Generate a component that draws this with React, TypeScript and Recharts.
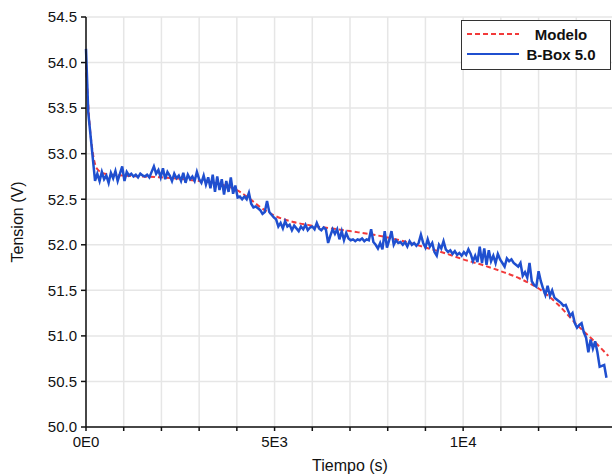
import { CartesianGrid, Label, Line, LineChart, XAxis, YAxis } from "recharts";

// Modelo (red dashed) – time in s, voltage in V
const modelTime = [0, 50, 100, 150, 200, 300, 500, 1000, 2000, 3000, 3500, 4000, 4300, 4600, 5000, 5500, 6000, 7000, 8000, 8500, 9000, 9500, 10000, 10500, 11000, 11500, 12000, 12500, 13000, 13500, 13850];
const modelVolt = [53.98, 53.6, 53.3, 53.1, 52.96, 52.83, 52.78, 52.76, 52.74, 52.7, 52.67, 52.6, 52.52, 52.42, 52.32, 52.25, 52.21, 52.15, 52.08, 52.03, 51.97, 51.91, 51.84, 51.78, 51.71, 51.63, 51.52, 51.35, 51.13, 50.93, 50.78];

// B-Box 5.0 measurement (blue), one sample every 60 s
const BBOX_STEP = 60;
const bboxVolt = [
  54.15, 53.45, 53.2, 52.95, 52.7, 52.78, 52.7, 52.8, 52.72, 52.76,
  52.68, 52.79, 52.73, 52.81, 52.7, 52.78, 52.86, 52.7, 52.8, 52.76,
  52.78, 52.75, 52.77, 52.74, 52.78, 52.76, 52.75, 52.77, 52.74, 52.8,
  52.86, 52.78, 52.82, 52.74, 52.84, 52.72, 52.8, 52.76, 52.7, 52.78,
  52.73, 52.76, 52.7, 52.79, 52.68, 52.77, 52.72, 52.75, 52.7, 52.8,
  52.72, 52.68, 52.76, 52.66, 52.74, 52.62, 52.77, 52.58, 52.75, 52.6,
  52.72, 52.55, 52.7, 52.58, 52.74, 52.56, 52.65, 52.52, 52.53, 52.5,
  52.53, 52.5, 52.57, 52.45, 52.41, 52.42, 52.4, 52.38, 52.34, 52.36,
  52.48, 52.36, 52.33, 52.3, 52.28, 52.2, 52.24, 52.18, 52.26, 52.2,
  52.22, 52.16, 52.21, 52.18, 52.15, 52.2, 52.17, 52.22, 52.16, 52.19,
  52.2, 52.17, 52.24, 52.18, 52.16, 52.19, 52.17, 52.02, 52.1, 52.17,
  52.12, 52.17, 52.06, 52.15, 52.05, 52.13, 52.07, 52.05, 52.06, 52.04,
  52.06, 52.05, 52.07, 52.04, 52.06, 52.05, 52.17, 52.03, 52.0, 51.96,
  52.02, 51.95, 52.15, 51.97, 52.05, 52.15, 52.0, 52.05, 52.02, 52.03,
  52.0, 52.03, 51.98, 52.04, 52.0, 52.02, 51.99, 52.02, 52.11, 52.02,
  51.97, 52.06, 51.98, 52.02, 51.92, 51.88, 52.0, 51.96, 52.04, 51.95,
  51.92, 51.94, 51.9, 51.93, 51.89, 51.91, 51.88, 51.92, 51.89, 51.95,
  51.9, 51.82, 51.88, 51.81, 51.98, 51.8, 51.96, 51.78, 51.94, 51.82,
  51.88, 51.8, 51.9, 51.84, 51.8, 51.76, 51.85, 51.82, 51.84, 51.8,
  51.78, 51.76, 51.8, 51.66, 51.7, 51.64, 51.8, 51.6, 51.56, 51.54,
  51.71, 51.6, 51.52, 51.45, 51.55, 51.44, 51.5, 51.42, 51.4, 51.38,
  51.36, 51.33, 51.34, 51.28, 51.22, 51.25, 51.14, 51.09, 51.12, 51.14,
  51.04, 50.98, 50.82, 50.96, 50.86, 50.94, 50.82, 50.66, 50.67, 50.68,
  50.54,
];

const xTicks = [0, 1000, 2000, 3000, 4000, 5000, 6000, 7000, 8000, 9000, 10000, 11000, 12000, 13000, 14000];
const xTickLabels: Record<number, string> = { 0: "0E0", 5000: "5E3", 10000: "1E4" };
const yTicks = [50, 50.5, 51, 51.5, 52, 52.5, 53, 53.5, 54, 54.5];

const FONT = '"Liberation Sans", Arial, sans-serif';
const RED = "#f23a3a";
const BLUE = "#1f4fcf";

export default function App() {
  const modelData = modelTime.map((t, i) => ({ t, v: modelVolt[i] }));
  const bboxData = bboxVolt.map((v, i) => ({ t: i * BBOX_STEP, v }));

  return (
    <div
      style={{
        position: "fixed",
        left: 0,
        top: 0,
        width: 612,
        height: 474,
        overflow: "hidden",
        background: "#fff",
        fontFamily: FONT,
      }}
    >
      <LineChart width={620} height={474} margin={{ top: 17, right: 6, bottom: 0, left: 0 }}>
        <CartesianGrid stroke="#e6e6e6" strokeWidth={1.5} />
        <XAxis
          dataKey="t"
          type="number"
          domain={[0, 14000]}
          ticks={xTicks}
          interval={0}
          height={47}
          tickSize={4}
          tickMargin={5}
          tickFormatter={(v: number) => xTickLabels[v] ?? ""}
          tick={{ fill: "#111", fontSize: 15, fontFamily: FONT }}
          axisLine={{ stroke: "#111", strokeWidth: 1.5 }}
          tickLine={{ stroke: "#111", strokeWidth: 1.5 }}
        >
          <Label value="Tiempo (s)" position="insideBottom" offset={3} fill="#111" fontSize={16} fontFamily={FONT} />
        </XAxis>
        <XAxis
          xAxisId="top"
          orientation="top"
          type="number"
          domain={[0, 14000]}
          height={0}
          tick={false}
          tickLine={false}
          axisLine={{ stroke: "#555", strokeWidth: 1.5 }}
        />
        <YAxis
          type="number"
          domain={[50, 54.5]}
          ticks={yTicks}
          interval={0}
          width={86}
          tickSize={5}
          tickMargin={4}
          tickFormatter={(v: number) => v.toFixed(1)}
          tick={{ fill: "#111", fontSize: 15, fontFamily: FONT }}
          axisLine={{ stroke: "#111", strokeWidth: 1.5 }}
          tickLine={{ stroke: "#111", strokeWidth: 1.5 }}
        >
          <Label value="Tension (V)" angle={-90} position="center" dx={-26} fill="#111" fontSize={16} fontFamily={FONT} />
        </YAxis>
        <Line
          data={modelData}
          dataKey="v"
          type="monotone"
          stroke={RED}
          strokeWidth={2}
          strokeDasharray="5 3"
          dot={false}
          activeDot={false}
          isAnimationActive={false}
        />
        <Line
          data={bboxData}
          dataKey="v"
          type="linear"
          stroke={BLUE}
          strokeWidth={2.5}
          dot={false}
          activeDot={false}
          isAnimationActive={false}
        />
      </LineChart>

      <div
        style={{
          position: "absolute",
          left: 461,
          top: 20,
          width: 148,
          height: 48,
          border: "1.5px solid #333",
          background: "#fff",
          fontSize: 15,
          fontWeight: "bold",
          color: "#111",
        }}
      >
        {[
          { name: "Modelo", color: RED, dash: "5 3" },
          { name: "B-Box 5.0", color: BLUE, dash: undefined },
        ].map((item, i) => (
          <div key={item.name} style={{ position: "absolute", left: 0, top: 3 + i * 20, height: 20, width: 148, display: "flex", alignItems: "center" }}>
            <svg width={60} height={20} style={{ display: "block" }}>
              <line x1={5} y1={10} x2={57} y2={10} stroke={item.color} strokeWidth={2} strokeDasharray={item.dash} />
            </svg>
            <span style={{ flex: 1, textAlign: "center", paddingRight: 10 }}>{item.name}</span>
          </div>
        ))}
      </div>
    </div>
  );
}
